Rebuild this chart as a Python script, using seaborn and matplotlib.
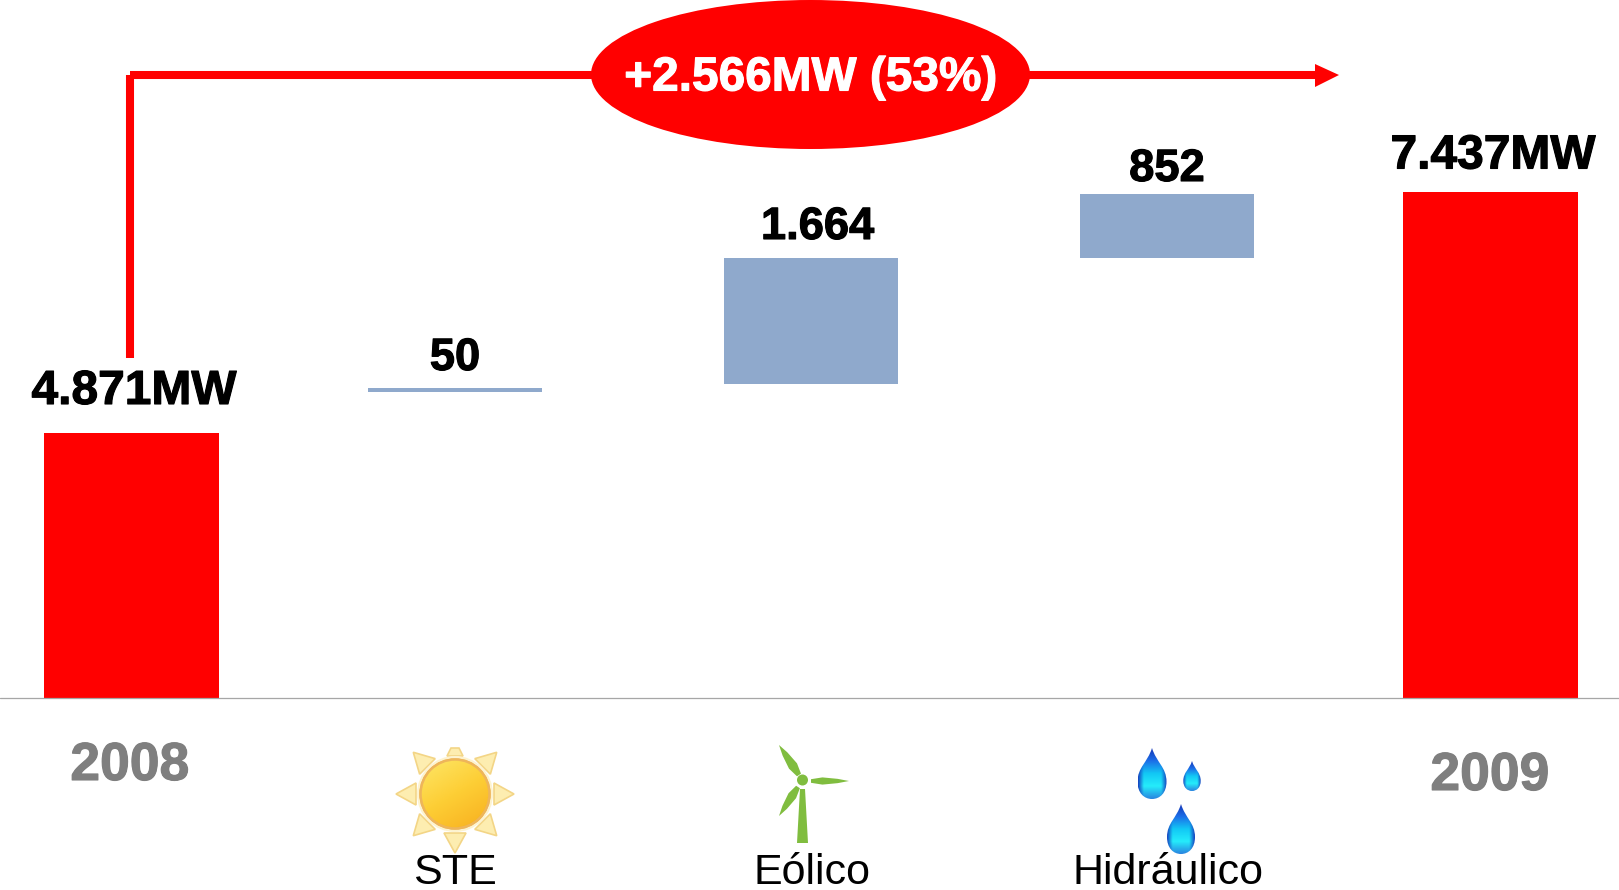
import numpy as np
import pandas as pd
import seaborn as sns
import matplotlib.pyplot as plt
import matplotlib.patheffects as pe
from matplotlib.patches import Circle, Ellipse, Polygon, PathPatch
from matplotlib.path import Path
from matplotlib.colors import LinearSegmentedColormap

# waterfall, values (MW, axis is not to scale with the labels)
categories = ["2008", "STE", "Eólico", "Hidráulico", "2009"]
bar_heights = [3500, 50, 1664, 845, 6684]
bar_bottoms = [0, 4042, 4148, 5813, 0]
value_labels = ["4.871MW", "50", "1.664", "852", "7.437MW"]
total_label = "+2.566MW (53%)"

RED = "#ff0000"
BLUE = "#8fa9cc"
GREY = "#7f7f7f"
GREEN = "#80bd3f"
W, H = 1619, 890

# layout in pixels
centers = [131.7, 455, 811, 1167, 1490.5]
BASE_Y = 698
PX_PER_MW = 0.0757

sns.set_theme(style="white")
plt.rcParams["font.family"] = ["Liberation Sans", "DejaVu Sans"]

df = pd.DataFrame({"cat": categories, "x": centers, "height": bar_heights, "bottom": bar_bottoms})
totals = df[df["cat"].isin(["2008", "2009"])]
floats = df[~df["cat"].isin(["2008", "2009"])]

fig = plt.figure(figsize=(W / 100, H / 100), dpi=100)
ax = fig.add_axes([0, 0, 1, 1])

sns.barplot(data=totals, x="x", y="height", native_scale=True, color=RED, saturation=1,
            width=175 / (centers[4] - centers[0]), errorbar=None, linewidth=0, ax=ax)
sns.barplot(data=floats, x="x", y="height", native_scale=True, color=BLUE, saturation=1,
            width=174 / (centers[2] - centers[1]), errorbar=None, linewidth=0,
            bottom=floats["bottom"].values, ax=ax)
ax.set_xlim(0, W)
ax.set_ylim(-(H - BASE_Y) / PX_PER_MW, BASE_Y / PX_PER_MW)
ax.axis("off")

# overlay in pixel coordinates for the annotations
ov = fig.add_axes([0, 0, 1, 1])
ov.set_xlim(0, W)
ov.set_ylim(H, 0)
ov.axis("off")
ov.patch.set_alpha(0)

ov.plot([0, W], [BASE_Y, BASE_Y], color="#a6a6a6", lw=0.9, zorder=1)

# arrow and ellipse
ov.plot([130, 130], [358, 75], color=RED, lw=5.8, solid_capstyle="butt", zorder=2)
ov.plot([130, 1318], [75, 75], color=RED, lw=5.8, solid_capstyle="butt", zorder=2)
ov.add_patch(Polygon([[1339, 75], [1315, 64], [1315, 87]], color=RED, lw=0, zorder=2))
ov.add_patch(Ellipse((810.5, 74.5), 439, 149, color=RED, lw=0, zorder=3))


def stroked(txt, color):
    # the reference text is a little heavier than plain bold
    txt.set_path_effects([pe.withStroke(linewidth=0.8, foreground=color)])


stroked(ov.text(811, 90.5, total_label, color="white", fontsize=34.4, fontweight="bold",
                ha="center", va="baseline", zorder=4), "white")

# value labels
label_x = [134, 455, 817.5, 1167, 1493]
label_y = [404, 370, 239, 181, 168.5]
label_size = [34.5, 32.6, 32.6, 32.6, 34.5]
for t, x, y, fs in zip(value_labels, label_x, label_y, label_size):
    stroked(ov.text(x, y, t, color="black", fontsize=fs, fontweight="bold",
                    ha="center", va="baseline"), "black")

# category labels
for t, x, y in [(categories[0], 130, 780), (categories[4], 1490, 790)]:
    stroked(ov.text(x, y, t, color=GREY, fontsize=38.5, fontweight="bold",
                    ha="center", va="baseline"), GREY)
for t, x in zip(categories[1:4], [455, 811.5, 1168]):
    ov.text(x, 884, t, color="black", fontsize=31, ha="center", va="baseline")


def gradient_fill(patch, cmap, extent):
    ov.add_patch(patch)
    yy, xx = np.mgrid[0:1:80j, 0:1:80j]
    im = ov.imshow(cmap(xx, yy), extent=extent, aspect="auto", zorder=patch.get_zorder(),
                   interpolation="bilinear")
    im.set_clip_path(patch)
    ov.set_xlim(0, W)
    ov.set_ylim(H, 0)


# sun
sx, sy = 455, 794
for ang in range(0, 360, 45):
    a = np.deg2rad(ang)
    d = np.array([np.cos(a), np.sin(a)])
    n = np.array([-d[1], d[0]])
    c = np.array([sx, sy])
    if ang == 270:
        pts = [c + d * 38 + n * 8, c + d * 38 - n * 8, c + d * 46 - n * 4, c + d * 46 + n * 4]
    else:
        pts = [c + d * 59, c + d * 39 + n * 11, c + d * 39 - n * 11]
    ov.add_patch(Polygon(pts, facecolor="#fdedb0", edgecolor="#f3d586", lw=1.2, zorder=2))

ov.add_patch(Circle((sx, sy), 38, color="#fdf3cf", lw=0, zorder=2.5))
sun_cmap = LinearSegmentedColormap.from_list("sun", ["#fde768", "#fdce35", "#f8ae1e"])
sun = Circle((sx, sy), 34.5, facecolor="none", edgecolor="#eeb55a", lw=1.6, zorder=3)
gradient_fill(sun, lambda xx, yy: sun_cmap(np.clip((xx * 0.6 + yy) / 1.6, 0, 1)),
              (sx - 35, sx + 35, sy + 35, sy - 35))
ov.add_patch(Circle((sx, sy), 34.5, facecolor="none", edgecolor="#eeb55a", lw=1.8, zorder=4))


# wind turbine
def blade(p0, p1, w):
    p0, p1 = np.array(p0, float), np.array(p1, float)
    L = np.linalg.norm(p1 - p0)
    d = (p1 - p0) / L
    n = np.array([-d[1], d[0]])
    verts = [p0 + n * w * 0.5, p0 + d * L * 0.3 + n * w, p0 + d * L * 0.7 + n * w * 0.6, p1,
             p0 + d * L * 0.7 - n * w * 0.6, p0 + d * L * 0.3 - n * w, p0 - n * w * 0.5]
    ov.add_patch(Polygon(verts, color=GREEN, lw=0, zorder=3))


blade((799, 775), (779, 745), 4.8)
blade((811, 781), (849, 781), 3.6)
blade((798, 787), (779, 816), 4.5)
ov.add_patch(Polygon([[800, 789], [805, 789], [808, 843], [797, 843]], color=GREEN, lw=0, zorder=3))
ov.add_patch(Circle((802.5, 780), 5.5, color=GREEN, lw=0, zorder=3))

# drops
drop_cmap = LinearSegmentedColormap.from_list("drop", ["#1637b8", "#1c6fe8", "#12c8f5", "#25ecfb", "#2a86e0"])


def drop_colors(xx, yy):
    rgba = drop_cmap(np.clip(yy, 0, 1))
    # darker towards the sides
    edge = np.clip((np.abs(xx - 0.5) * 2 - 0.6) / 0.4, 0, 1)[..., None]
    rgba[..., :3] = rgba[..., :3] * (1 - edge) + np.array([0.08, 0.25, 0.75]) * edge
    return rgba


def drop(x, tip, bottom, hw):
    h = bottom - tip
    verts = [(x, tip),
             (x + hw * 0.3, tip + h * 0.28), (x + hw, tip + h * 0.38), (x + hw, tip + h * 0.66),
             (x + hw, tip + h * 0.88), (x + hw * 0.55, bottom), (x, bottom),
             (x - hw * 0.55, bottom), (x - hw, tip + h * 0.88), (x - hw, tip + h * 0.66),
             (x - hw, tip + h * 0.38), (x - hw * 0.3, tip + h * 0.28), (x, tip)]
    codes = [Path.MOVETO] + [Path.CURVE4] * 12
    p = PathPatch(Path(verts, codes), facecolor="none", edgecolor="none", zorder=3)
    gradient_fill(p, drop_colors, (x - hw, x + hw, bottom, tip))


drop(1152, 748, 799, 14.5)
drop(1192, 761, 791, 8.7)
drop(1181, 804, 854, 14)

fig.savefig("out.png", dpi=100)
